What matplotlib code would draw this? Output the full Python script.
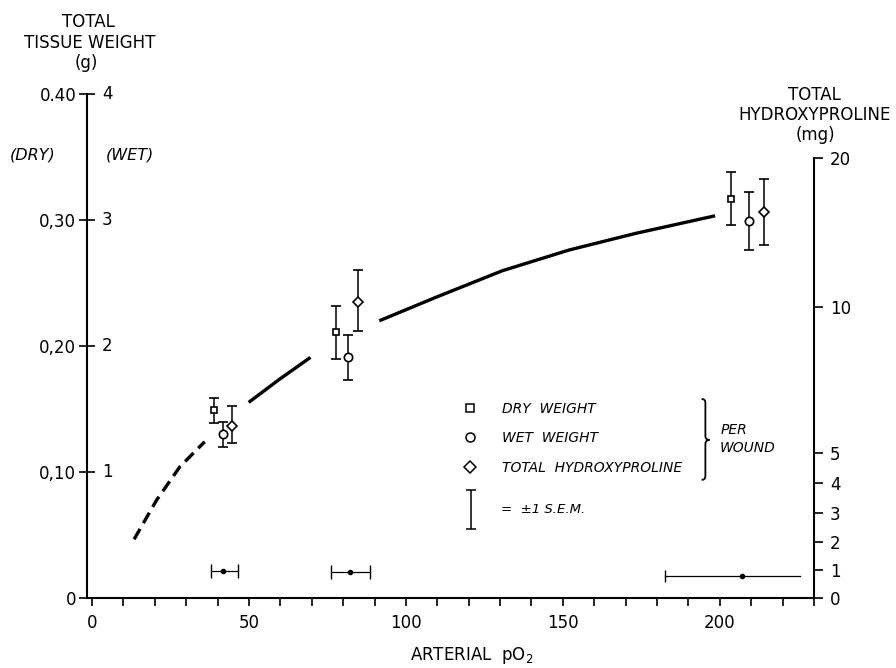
import numpy as np
import matplotlib
matplotlib.use("Agg")
import matplotlib.pyplot as plt
from matplotlib.path import Path
from matplotlib.patches import PathPatch
from matplotlib.ticker import MultipleLocator

# arterial pO2 of the three groups: mean and +-1 SEM range
po2_mean = [41.7, 82.3, 207.0]
po2_lo = [38.0, 76.2, 182.6]
po2_hi = [46.5, 88.6, 225.5]

# dry weight per wound (g)
dry_x = [38.9, 77.7, 203.6]
dry_g = [0.149, 0.211, 0.317]
dry_sem = [0.010, 0.021, 0.021]

# wet weight per wound (g)
wet_x = [41.6, 81.6, 209.2]
wet_g = [1.30, 1.91, 2.99]
wet_sem = [0.10, 0.18, 0.23]

# total hydroxyproline per wound (mg), with -1/+1 SEM ends
hyp_x = [44.6, 84.7, 214.2]
hyp_mg = [5.95, 10.37, 16.37]
hyp_lo = [5.34, 9.19, 14.15]
hyp_hi = [6.62, 12.52, 18.59]

# hand drawn curve, read on the dry weight scale
curve1_x = [13.4, 20.6, 28.0, 35.9]
curve1_y = [0.0468, 0.0780, 0.1044, 0.1242]
curve2_x = [49.9, 59.7, 69.6]
curve2_y = [0.1554, 0.1737, 0.1911]
curve3_x = [91.5, 109.5, 130.7, 151.9, 173.1, 198.5]
curve3_y = [0.2201, 0.2387, 0.2598, 0.2762, 0.2894, 0.3034]

# axis labels
dry_ticks = [0, 0.1, 0.2, 0.3, 0.4]
dry_labels = ["0", "0,10", "0,20", "0,30", "0.40"]
wet_labels = ["1", "2", "3", "4"]
x_ticks = [0, 50, 100, 150, 200]
# right axis (mg) is not linear: where each value sits on the dry scale
hyp_ticks = [0, 1, 2, 3, 4, 5, 10, 20]
hyp_pos = [0, 0.0224, 0.045, 0.068, 0.0918, 0.115, 0.2308, 0.349]


def to_dry(mg):
    return np.interp(mg, hyp_ticks, hyp_pos)


W, H = 896, 668
fig = plt.figure(figsize=(W / 100, H / 100), dpi=100)
ax = fig.add_axes([87 / W, 1 - 598.3 / H, (814 - 87) / W, (598.3 - 94) / H])
ax.set_xlim(-1.6, 230)
ax.set_ylim(0, 0.40)

# spines
ax.spines["top"].set_visible(False)
ax.spines["right"].set_visible(False)
for s in ["left", "bottom"]:
    ax.spines[s].set_linewidth(1.5)
ax.spines["left"].set_bounds(0, 0.40)

ax.set_xticks(x_ticks)
ax.xaxis.set_minor_locator(MultipleLocator(10))
ax.tick_params(axis="x", which="both", direction="out", length=6, width=1.2,
               labelsize=12, pad=5)
ax.set_yticks(dry_ticks)
ax.set_yticklabels(dry_labels)
ax.tick_params(axis="y", direction="inout", length=11.5, width=1.2,
               labelsize=12, pad=2)

# wet weight labels on the inner side of the left axis
for i, lab in enumerate(wet_labels):
    ax.text(0.0206, dry_ticks[i + 1], lab, transform=ax.get_yaxis_transform(),
            ha="left", va="center", fontsize=12)

# right axis for hydroxyproline
ax2 = ax.twinx()
ax2.set_ylim(ax.get_ylim())
for s in ["top", "left", "bottom"]:
    ax2.spines[s].set_visible(False)
ax2.spines["right"].set_linewidth(1.5)
ax2.spines["right"].set_bounds(0, hyp_pos[-1])
ax2.set_yticks(hyp_pos)
ax2.set_yticklabels([str(v) for v in hyp_ticks])
ax2.tick_params(axis="y", direction="out", length=6.5, width=1.2,
                labelsize=12, pad=5)

# curve
ax.plot(curve1_x, curve1_y, color="black", lw=2.4, dashes=(3.6, 2.0),
        solid_capstyle="butt")
ax.plot(curve2_x, curve2_y, color="black", lw=2.4, solid_capstyle="butt")
ax.plot(curve3_x, curve3_y, color="black", lw=2.4, solid_capstyle="butt")

eb = dict(color="black", mfc="white", mec="black", mew=1.2, elinewidth=1.1,
          capsize=3.3, capthick=1.1, zorder=5)
ax.errorbar(dry_x, dry_g, yerr=dry_sem, fmt="s", ms=5, **eb)
ax.errorbar(wet_x, np.array(wet_g) / 10, yerr=np.array(wet_sem) / 10,
            fmt="o", ms=6, **eb)
hyp_y = to_dry(hyp_mg)
hyp_err = [hyp_y - to_dry(hyp_lo), to_dry(hyp_hi) - hyp_y]
ax.errorbar(hyp_x, hyp_y, yerr=hyp_err, fmt="D", ms=5.5, **eb)

# pO2 spread of each group
po2_row = [0.0219, 0.0206, 0.0179]
for i in range(3):
    ax.plot([po2_lo[i], po2_hi[i]], [po2_row[i], po2_row[i]], color="black", lw=0.9)
    ax.plot(po2_mean[i], po2_row[i], "o", color="black", ms=3)
    ends = [po2_lo[i], po2_hi[i]] if i < 2 else [po2_lo[i]]
    ax.plot(ends, [po2_row[i]] * len(ends), "|", color="black", ms=10 if i < 2 else 8,
            mew=1.0)

# key
key = dict(fontsize=10, style="italic", va="center", ha="left")
mk = dict(color="black", mfc="white", mew=1.1, ls="none")
ax.plot(120.3, 0.1507, "s", ms=5.5, **mk)
ax.plot(120.3, 0.1277, "o", ms=6.5, **mk)
ax.plot(120.3, 0.1039, "D", ms=6.5, **mk)
ax.text(130.7, 0.1505, "DRY  WEIGHT", **key)
ax.text(130.7, 0.1275, "WET  WEIGHT", **key)
ax.text(130.7, 0.1037, "TOTAL  HYDROXYPROLINE", **key)
ax.errorbar(120.7, 0.0703, yerr=0.0156, fmt="none", ecolor="black",
            elinewidth=1.1, capsize=3.8, capthick=1.1)
ax.text(130.2, 0.0703, "=  \u00b11 S.E.M.", fontsize=9.5, style="italic",
        va="center", ha="left")

# brace
bx0, bx1, bx2 = 194.2, 195.4, 196.7
verts = [(bx0, 0.1581), (bx1, 0.1581), (bx1, 0.1550), (bx1, 0.1288),
         (bx1, 0.1256), (bx2, 0.1256), (bx1, 0.1256), (bx1, 0.1224),
         (bx1, 0.0971), (bx1, 0.0939), (bx0, 0.0939)]
codes = [Path.MOVETO, Path.CURVE3, Path.CURVE3, Path.LINETO,
         Path.CURVE3, Path.CURVE3, Path.CURVE3, Path.CURVE3,
         Path.LINETO, Path.CURVE3, Path.CURVE3]
ax.add_patch(PathPatch(Path(verts, codes), fill=False, lw=1.3, color="black"))
ax.text(200.1, 0.1335, "PER", **key)
ax.text(200.1, 0.1190, "WOUND", **key)

# titles in figure pixels
def ftext(x, y, s, **kw):
    fig.text(x / W, 1 - y / H, s, va="center", **kw)

ftext(88, 22, "TOTAL", ha="center", fontsize=12)
ftext(90, 43, "TISSUE WEIGHT", ha="center", fontsize=12)
ftext(86, 63, "(g)", ha="center", fontsize=12)
ftext(33, 155, "(DRY)", ha="center", fontsize=11.5, style="italic")
ftext(130, 155, "(WET)", ha="center", fontsize=11.5, style="italic")
ftext(814, 95, "TOTAL", ha="center", fontsize=12)
ftext(815, 115, "HYDROXYPROLINE", ha="center", fontsize=12)
ftext(815, 135, "(mg)", ha="center", fontsize=12)
ftext(472, 656, "ARTERIAL  pO$_2$", ha="center", fontsize=12)

fig.savefig("out.png", dpi=100)
